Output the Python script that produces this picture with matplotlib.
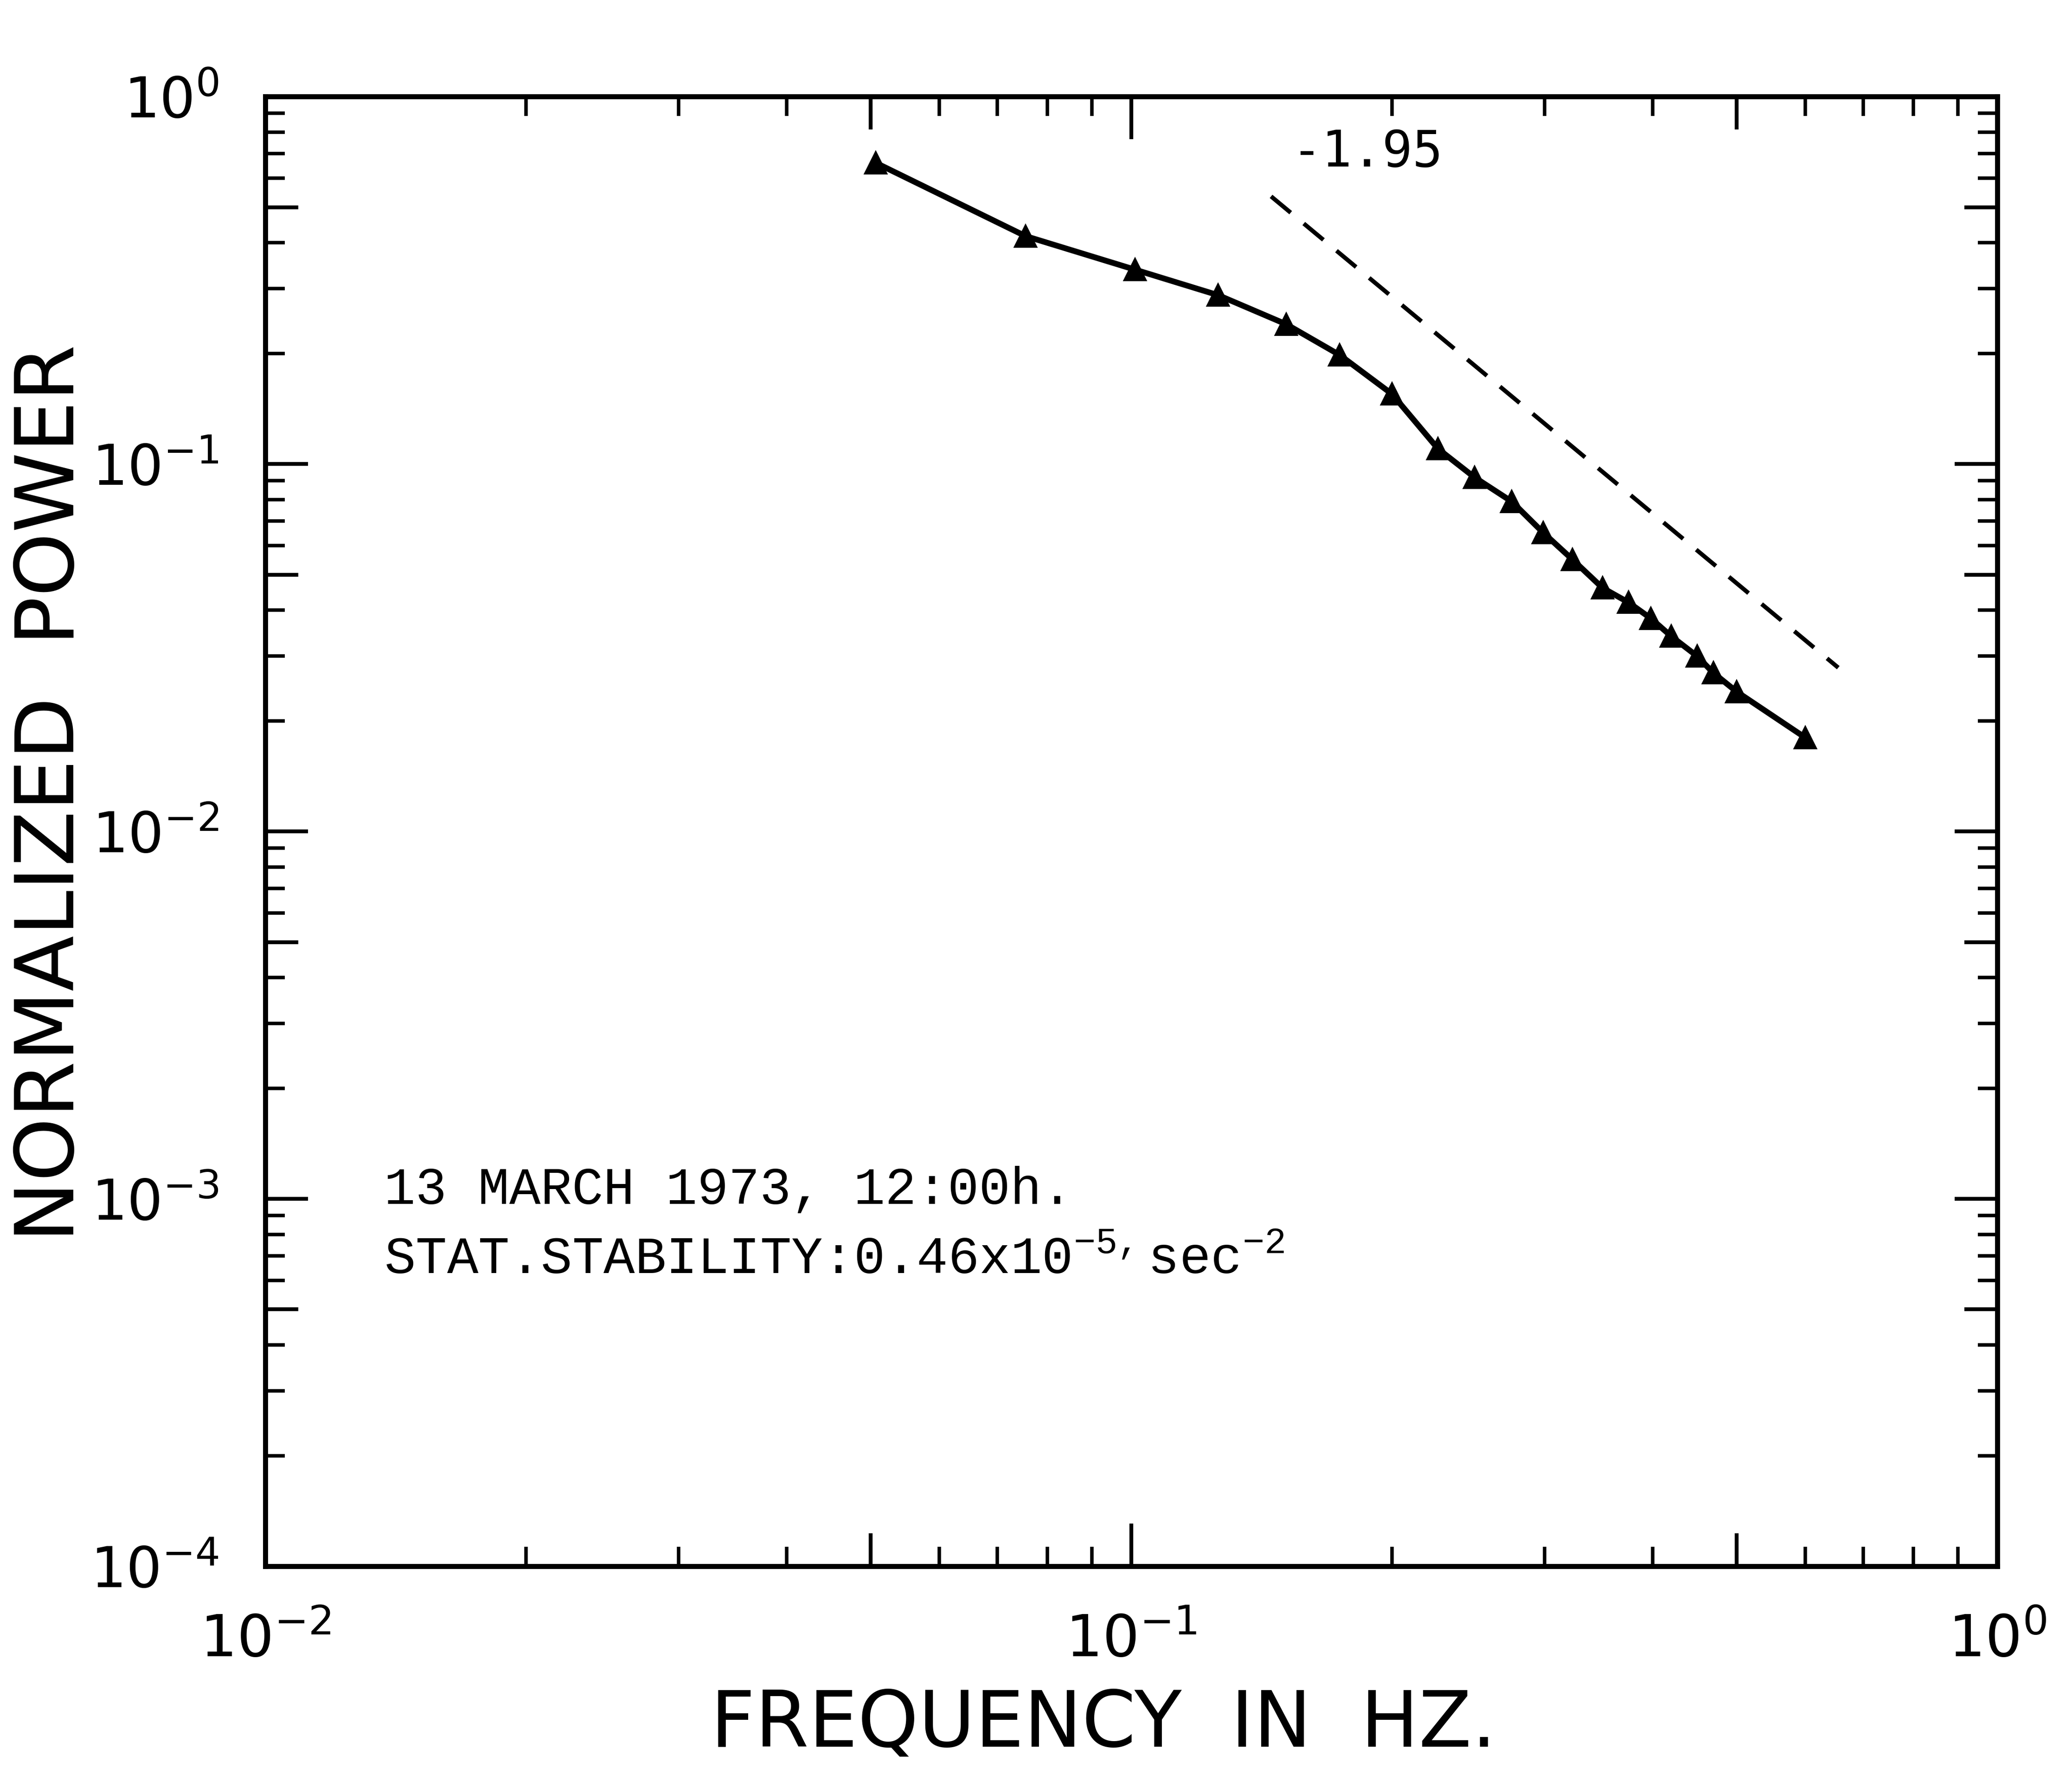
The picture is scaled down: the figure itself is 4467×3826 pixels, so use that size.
"""Normalized power spectrum, 13 March 1973 - log-log plot with -1.95 slope guide."""
import matplotlib

matplotlib.use("Agg")
import matplotlib.pyplot as plt
from matplotlib.ticker import FixedLocator, LogLocator, NullFormatter, NullLocator

# --------------------------------------------------------------------------- #
# Data
# --------------------------------------------------------------------------- #
freq_hz = [0.0507, 0.0755, 0.101, 0.126, 0.151, 0.174, 0.200, 0.226, 0.249, 0.275,
           0.299, 0.323, 0.350, 0.375, 0.398, 0.420, 0.450, 0.470, 0.500, 0.600]
norm_power = [0.66, 0.417, 0.338, 0.288, 0.240, 0.198, 0.155, 0.110, 0.092, 0.079,
              0.065, 0.055, 0.046, 0.042, 0.038, 0.034, 0.030, 0.027, 0.024, 0.018]

# reference slope line (-1.95)
slope_freq = [0.145, 0.655]
slope_power = [0.535, 0.0279]
slope_label = "-1.95"

x_decades = [1e-2, 1e-1, 1e0]
y_decades = [1e-4, 1e-3, 1e-2, 1e-1, 1e0]
x_tick_labels = [r"$\mathsf{10^{-2}}$", r"$\mathsf{10^{-1}}$", r"$\mathsf{10^{0}}$"]
y_tick_labels = [r"$\mathsf{10^{-4}}$", r"$\mathsf{10^{-3}}$", r"$\mathsf{10^{-2}}$",
                 r"$\mathsf{10^{-1}}$", r"$\mathsf{10^{0}}$"]
x_fives = [0.05, 0.5]
y_fives = [5e-4, 5e-3, 5e-2, 5e-1]

date_text = "13 MARCH 1973, 12:00h."
stab_text = r"STAT.STABILITY:0.46x10$^{\mathrm{-5,}}$sec$^{\mathrm{-2}}$"

plt.rcParams["mathtext.fontset"] = "custom"
plt.rcParams["mathtext.rm"] = "Liberation Mono"
plt.rcParams["mathtext.sf"] = "DejaVu Sans"

fig = plt.figure(figsize=(4467 / 300, 3826 / 300), dpi=300)
ax = fig.add_axes([0.128, 0.1176, 0.836, 0.828])

ax.plot(freq_hz, norm_power, color="black", lw=3.0, marker="^", ms=11,
        markerfacecolor="black", markeredgecolor="black")
ax.plot(slope_freq, slope_power, color="black", lw=2.2, ls=(0, (6, 4)))

ax.set_xscale("log")
ax.set_yscale("log")
ax.set_xlim(1e-2, 1e0)
ax.set_ylim(1e-4, 1e0)

for s in ax.spines.values():
    s.set_linewidth(2.6)

ax.xaxis.set_major_locator(FixedLocator(x_decades))
ax.yaxis.set_major_locator(FixedLocator(y_decades))
ax.xaxis.set_minor_locator(LogLocator(base=10, subs=range(2, 10), numticks=20))
ax.yaxis.set_minor_locator(LogLocator(base=10, subs=range(2, 10), numticks=20))
ax.xaxis.set_minor_formatter(NullFormatter())
ax.yaxis.set_minor_formatter(NullFormatter())
ax.set_xticklabels(x_tick_labels)
ax.set_yticklabels(y_tick_labels)

ax.tick_params(which="major", direction="in", length=22, width=2.0,
               top=True, right=True, labelsize=30)
ax.tick_params(which="minor", direction="in", length=10, width=1.8,
               top=True, right=True)
ax.tick_params(axis="x", which="major", pad=24)
ax.tick_params(axis="y", which="major", pad=24, labelsize=29)

# medium-length ticks at the 5x positions on every side
for side in ("bottom", "top"):
    sec = ax.secondary_xaxis(side)
    sec.xaxis.set_major_locator(FixedLocator(x_fives))
    sec.xaxis.set_minor_locator(NullLocator())
    sec.tick_params(direction="in", length=17, width=2.0,
                    labelbottom=False, labeltop=False)
    for s in sec.spines.values():
        s.set_visible(False)
for side in ("left", "right"):
    sec = ax.secondary_yaxis(side)
    sec.yaxis.set_major_locator(FixedLocator(y_fives))
    sec.yaxis.set_minor_locator(NullLocator())
    sec.tick_params(direction="in", length=17, width=2.0,
                    labelleft=False, labelright=False)
    for s in sec.spines.values():
        s.set_visible(False)

ax.set_xlabel("FREQUENCY  IN  HZ.", fontsize=40, va="center")
ax.set_ylabel("NORMALIZED  POWER", fontsize=42, va="center")
ax.xaxis.set_label_coords(0.484, -0.108)
ax.yaxis.set_label_coords(-0.1235, 0.526)

ax.text(0.153, 0.705, slope_label, fontsize=26, family="DejaVu Sans Mono",
        va="center", ha="left")
ax.text(0.01371, 9.7e-4, date_text, fontsize=27, family="Liberation Mono",
        va="baseline", ha="left")
ax.text(0.01371, 6.27e-4, stab_text, fontsize=27, family="Liberation Mono",
        va="baseline", ha="left")

fig.savefig("out.png", dpi=300)
